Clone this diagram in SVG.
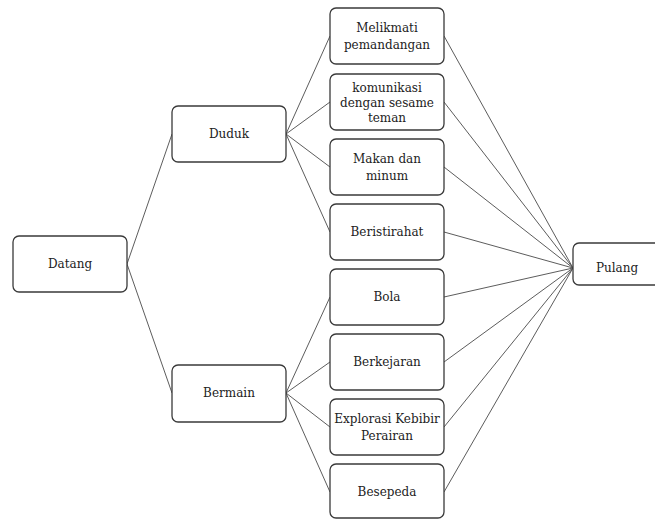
<svg xmlns="http://www.w3.org/2000/svg" width="655" height="519" viewBox="0 0 655 519">
  <style>
    .box { fill: #ffffff; stroke: #3a3a3a; stroke-width: 1.3; }
    .lbl { font-family: 'DejaVu Serif', serif; font-size: 12px; fill: #222222; text-anchor: middle; }
    .link { stroke: #4a4a4a; stroke-width: 0.9; fill: none; }
  </style>
  <rect width="655" height="519" fill="#ffffff"/>

  <!-- connectors -->
  <g id="connectors">
    <line class="link" x1="127" y1="264" x2="172" y2="134"/>
    <line class="link" x1="127" y1="264" x2="172" y2="393"/>

    <line class="link" x1="286" y1="134" x2="330" y2="36"/>
    <line class="link" x1="286" y1="134" x2="330" y2="102"/>
    <line class="link" x1="286" y1="134" x2="330" y2="167"/>
    <line class="link" x1="286" y1="134" x2="330" y2="232"/>

    <line class="link" x1="286" y1="393" x2="330" y2="297"/>
    <line class="link" x1="286" y1="393" x2="330" y2="362"/>
    <line class="link" x1="286" y1="393" x2="330" y2="427"/>
    <line class="link" x1="286" y1="393" x2="330" y2="492"/>

    <line class="link" x1="444" y1="36" x2="573" y2="268"/>
    <line class="link" x1="444" y1="102" x2="573" y2="268"/>
    <line class="link" x1="444" y1="167" x2="573" y2="268"/>
    <line class="link" x1="444" y1="232" x2="573" y2="268"/>
    <line class="link" x1="444" y1="297" x2="573" y2="268"/>
    <line class="link" x1="444" y1="362" x2="573" y2="268"/>
    <line class="link" x1="444" y1="427" x2="573" y2="268"/>
    <line class="link" x1="444" y1="492" x2="573" y2="268"/>
  </g>

  <g id="datang">
    <rect class="box" x="13" y="236" width="114" height="56" rx="6"/>
    <text class="lbl" x="70" y="268">Datang</text>
  </g>

  <g id="duduk">
    <rect class="box" x="172" y="106" width="114" height="56" rx="6"/>
    <text class="lbl" x="229" y="138">Duduk</text>
  </g>

  <g id="bermain">
    <rect class="box" x="172" y="365" width="114" height="57" rx="6"/>
    <text class="lbl" x="229" y="397">Bermain</text>
  </g>

  <g id="melikmati">
    <rect class="box" x="330" y="8" width="114" height="56" rx="6"/>
    <text class="lbl" x="387" y="32">Melikmati</text>
    <text class="lbl" x="387" y="49">pemandangan</text>
  </g>

  <g id="komunikasi">
    <rect class="box" x="330" y="74" width="114" height="56" rx="6"/>
    <text class="lbl" x="387" y="92">komunikasi</text>
    <text class="lbl" x="387" y="107">dengan sesame</text>
    <text class="lbl" x="387" y="122">teman</text>
  </g>

  <g id="makan">
    <rect class="box" x="330" y="139" width="114" height="56" rx="6"/>
    <text class="lbl" x="387" y="163">Makan dan</text>
    <text class="lbl" x="387" y="180">minum</text>
  </g>

  <g id="beristirahat">
    <rect class="box" x="330" y="204" width="114" height="56" rx="6"/>
    <text class="lbl" x="387" y="236">Beristirahat</text>
  </g>

  <g id="bola">
    <rect class="box" x="330" y="269" width="114" height="56" rx="6"/>
    <text class="lbl" x="387" y="301">Bola</text>
  </g>

  <g id="berkejaran">
    <rect class="box" x="330" y="334" width="114" height="56" rx="6"/>
    <text class="lbl" x="387" y="366">Berkejaran</text>
  </g>

  <g id="explorasi">
    <rect class="box" x="330" y="399" width="114" height="56" rx="6"/>
    <text class="lbl" x="387" y="423">Explorasi Kebibir</text>
    <text class="lbl" x="387" y="440">Perairan</text>
  </g>

  <g id="besepeda">
    <rect class="box" x="330" y="464" width="114" height="54" rx="6"/>
    <text class="lbl" x="387" y="496">Besepeda</text>
  </g>

  <g id="pulang">
    <rect class="box" x="573" y="243" width="100" height="42" rx="6"/>
    <text class="lbl" x="617" y="272">Pulang</text>
  </g>
</svg>
